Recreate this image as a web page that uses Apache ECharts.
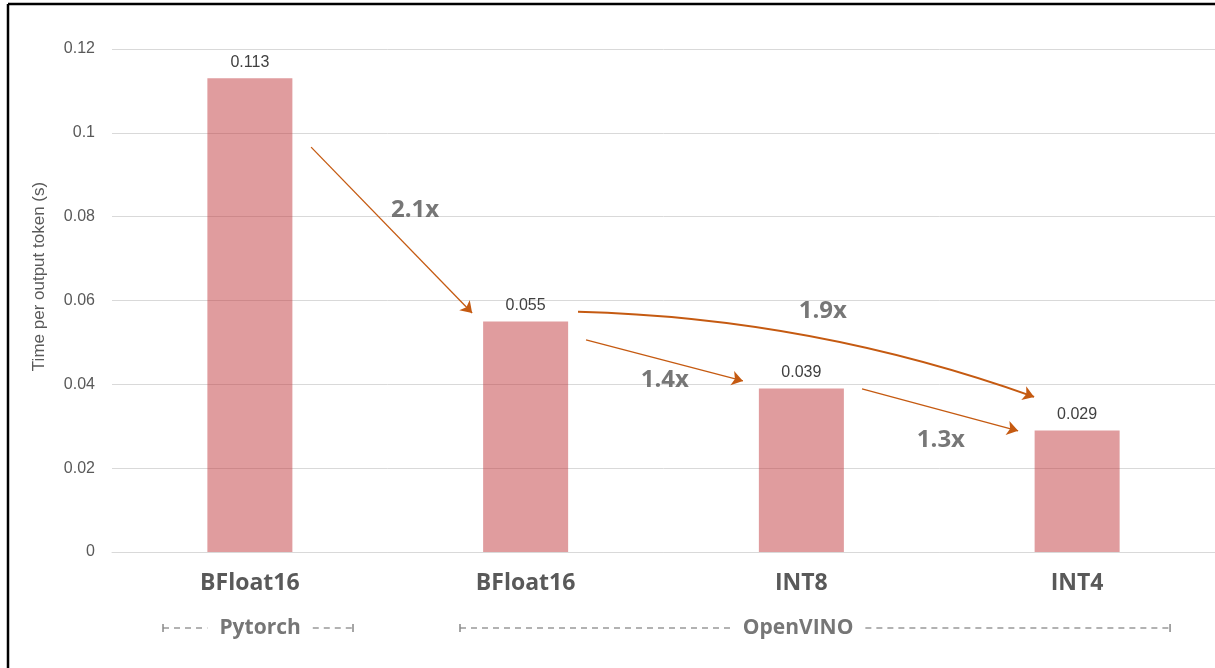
<!DOCTYPE html>
<html>
<head>
<meta charset="utf-8">
<script src="https://cdn.jsdelivr.net/npm/echarts@6/dist/echarts.min.js"></script>
<style>
html,body{margin:0;padding:0;background:#fff;}
#main{width:1215px;height:668px;}
</style>
</head>
<body>
<div id="main"></div>
<script>
// ---- data ----
const categories = ['BFloat16', 'BFloat16', 'INT8', 'INT4'];
const values = [0.113, 0.055, 0.039, 0.029];
const yAxisName = 'Time per output token (s)';
const speedupLabels = ['2.1x', '1.9x', '1.4x', '1.3x'];
// annotation arrows in data units (x: category position, y: value)
const arrowFrom = [[0.222, 0.0966], [1.190, 0.0573], [1.219, 0.0506], [2.220, 0.0389]];
const arrowTo   = [[0.806, 0.0570], [2.844, 0.0370], [1.788, 0.0408], [2.786, 0.0289]];
const arrowCurve = [0, 0.08, 0, 0];
const labelAt   = [[0.599, 0.0816], [2.078, 0.0575], [1.505, 0.0410], [2.506, 0.0267]];
const groupNames = ['Pytorch', 'OpenVINO'];
const groupSpans = [[-0.315, 0.374], [0.762, 3.337]];
const groupCenters = [0.037, 1.988];

// ---- chart ----
const chart = echarts.init(document.getElementById('main'), null, {renderer: 'canvas'});
const txt = '#595959';
const arrowColor = '#c55a11';

const option = {
  animation: false,
  backgroundColor: '#ffffff',
  grid: {left: 112, right: 0, top: 49, bottom: 116, containLabel: false},
  xAxis: [{
    type: 'category',
    data: categories,
    axisLine: {lineStyle: {color: '#d9d9d9', width: 1}},
    axisTick: {show: false},
    axisLabel: {color: txt, fontFamily: 'Open Sans', fontWeight: 'bold', fontSize: 23, margin: 20}
  }, {
    type: 'value', min: -0.5, max: 3.5, show: false
  }],
  yAxis: {
    type: 'value',
    min: 0, max: 0.12, interval: 0.02,
    name: yAxisName,
    nameLocation: 'middle',
    nameGap: 64,
    nameTextStyle: {color: txt, fontSize: 17, fontFamily: 'Liberation Sans', padding: [0, 0, 0, 48]},
    axisLine: {show: false},
    axisTick: {show: false},
    axisLabel: {color: txt, fontSize: 16, fontFamily: 'Liberation Sans', margin: 17},
    splitLine: {lineStyle: {color: '#d9d9d9', width: 1}}
  },
  series: [{
    type: 'bar',
    data: values,
    barWidth: 85,
    itemStyle: {color: 'rgba(193,57,61,0.5)'},
    label: {show: true, position: 'top', distance: 8, color: '#404040', fontSize: 16, fontFamily: 'Liberation Sans'}
  }, {
    type: 'lines',
    coordinateSystem: 'cartesian2d',
    xAxisIndex: 1, yAxisIndex: 0,
    silent: true,
    symbol: ['none', 'arrow'],
    symbolSize: 11,
    z: 5,
    data: arrowFrom.map((f, i) => ({
      coords: [f, arrowTo[i]],
      lineStyle: {color: arrowColor, width: i === 1 ? 2 : 1.3, curveness: arrowCurve[i], opacity: 1}
    }))
  }, {
    type: 'scatter',
    xAxisIndex: 1, yAxisIndex: 0,
    silent: true,
    symbolSize: 0,
    z: 6,
    data: labelAt,
    label: {
      show: true, position: 'inside',
      formatter: p => speedupLabels[p.dataIndex],
      color: '#555555', fontSize: 24, fontWeight: 'bold', fontFamily: 'Open Sans'
    }
  }]
};
chart.setOption(option);

// group brackets below the category labels
function measure(text, font) {
  const c = document.createElement('canvas').getContext('2d');
  c.font = font;
  return c.measureText(text).width;
}
const gFontSize = 21;
const gFont = 'bold ' + gFontSize + 'px "Open Sans"';
const gy = 628;
const gColor = '#999999';
const graphics = [];
groupNames.forEach((name, i) => {
  const x0 = chart.convertToPixel({xAxisIndex: 1}, groupSpans[i][0]);
  const x1 = chart.convertToPixel({xAxisIndex: 1}, groupSpans[i][1]);
  const xc = chart.convertToPixel({xAxisIndex: 1}, groupCenters[i]);
  const w = measure(name, gFont);
  const gap = 12;
  graphics.push({type: 'text', x: xc, y: gy, style: {text: name, font: gFont, fill: '#767676', align: 'center', verticalAlign: 'middle'}});
  graphics.push({type: 'line', shape: {x1: x0, y1: gy, x2: xc - w / 2 - gap, y2: gy}, style: {stroke: gColor, lineWidth: 1.5, lineDash: [6, 5]}});
  graphics.push({type: 'line', shape: {x1: xc + w / 2 + gap, y1: gy, x2: x1, y2: gy}, style: {stroke: gColor, lineWidth: 1.5, lineDash: [6, 5]}});
  graphics.push({type: 'line', shape: {x1: x0, y1: gy - 4, x2: x0, y2: gy + 4}, style: {stroke: '#888888', lineWidth: 1.5}});
  graphics.push({type: 'line', shape: {x1: x1, y1: gy - 4, x2: x1, y2: gy + 4}, style: {stroke: '#888888', lineWidth: 1.5}});
});
// frame (top and left edges of the original border)
graphics.push({type: 'line', shape: {x1: 8, y1: 4, x2: 1215, y2: 4}, style: {stroke: '#000', lineWidth: 2.5}});
graphics.push({type: 'line', shape: {x1: 8, y1: 4, x2: 8, y2: 668}, style: {stroke: '#000', lineWidth: 2.5}});
chart.setOption({graphic: graphics});
</script>
</body>
</html>
